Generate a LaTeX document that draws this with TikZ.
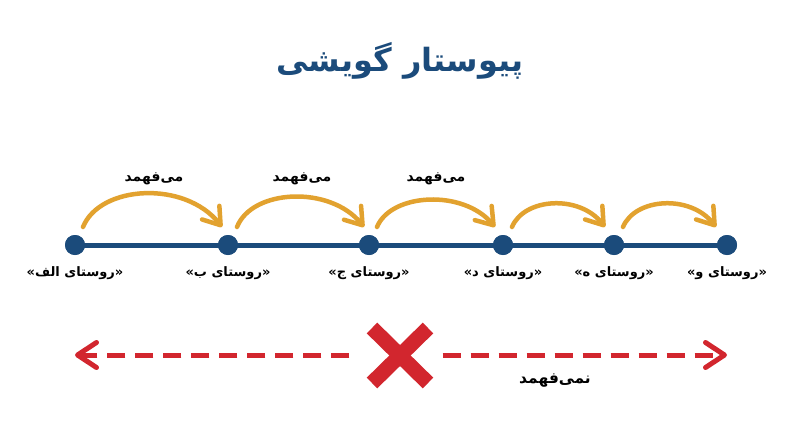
\documentclass[tikz,border=0pt]{standalone}
\usepackage{fontspec}
\setmainfont{DejaVu Sans}
\newfontfamily\fa[Script=Arabic]{DejaVu Sans}
\TeXXeTstate=1
\usetikzlibrary{arrows.meta,calc}
\definecolor{navy}{HTML}{1B4B7B}
\definecolor{gold}{HTML}{E2A22F}
\definecolor{redx}{HTML}{D2262E}
\tikzset{
  dot/.style={circle,fill=navy,inner sep=0pt,minimum size=20pt},
  lbl/.style={font=\fontsize{13}{15}\selectfont\fa\bfseries,text=black,inner sep=0pt},
  arclbl/.style={font=\fontsize{14}{16}\selectfont\fa\bfseries,text=black,inner sep=0pt},
  arcarrow/.style={draw=gold,line width=4.5pt,line cap=round,-{Straight Barb[length=16pt,width=22pt,line cap=round,line join=round]}},
  reddash/.style={draw=redx,line width=5pt,dash pattern=on 18pt off 10pt,-{Straight Barb[length=19pt,width=25pt,line cap=round,line join=round]}},
  bar/.style={draw=redx,line width=15pt,line cap=butt}
}
\begin{document}
\begin{tikzpicture}[x=1pt,y=-1pt]
\useasboundingbox[fill=white] (0,0) rectangle (800,447);
% title
\node[font=\fontsize{32}{36}\selectfont\fa\bfseries,text=navy,inner sep=0pt] (title) at (400,61) {\beginR پیوستار گویشی\endR};
% main line and dots
\node[dot] (a) at (75,245) {};
\node[dot] (b) at (228,245) {};
\node[dot] (c) at (369,245) {};
\node[dot] (d) at (503,245) {};
\node[dot] (e) at (614,245) {};
\node[dot] (f) at (727,245) {};
\draw[navy,line width=5pt] (a.center) -- (f.center);
\foreach \n in {a,b,c,d,e,f}{\fill[navy] (\n) circle (10pt);}
% labels
\node[lbl] (la) at (75,273) {\beginR«روستای الف»\endR};
\node[lbl] (lb) at (228,273) {\beginR«روستای ب»\endR};
\node[lbl] (lc) at (369,273) {\beginR«روستای ج»\endR};
\node[lbl] (ld) at (503,273) {\beginR«روستای د»\endR};
\node[lbl] (le) at (614,273) {\beginR«روستای ه»\endR};
\node[lbl] (lf) at (727,273) {\beginR«روستای و»\endR};
% arcs
\draw[arcarrow] ($(a)+(8,-18)$) .. controls +(17,-42) and +(-37,-47) .. ($(b)+(-6,-18)$);
\draw[arcarrow] ($(b)+(9,-18)$) .. controls +(15,-38) and +(-34,-42) .. ($(c)+(-5,-18)$);
\draw[arcarrow] ($(c)+(8,-18)$) .. controls +(14,-34) and +(-32,-38) .. ($(d)+(-8,-18)$);
\draw[arcarrow] ($(d)+(9,-18)$) .. controls +(12,-29) and +(-26,-33) .. ($(e)+(-9,-18)$);
\draw[arcarrow] ($(e)+(9,-18)$) .. controls +(12,-29) and +(-26,-33) .. ($(f)+(-11,-18)$);
\node[arclbl] (m1) at (154,179) {\beginR می^^^^200cفهمد\endR};
\node[arclbl] (m2) at (302,179) {\beginR می^^^^200cفهمد\endR};
\node[arclbl] (m3) at (436,179) {\beginR می^^^^200cفهمد\endR};
% cross
\node[inner sep=0pt,minimum width=67pt,minimum height=66pt] (cross) at (400,355.5) {};
\draw[bar] (372,328) -- (428,383);
\draw[bar] (428,328) -- (372,383);
% dashed arrows
\coordinate (lt) at (75,355);
\coordinate (rt) at (727,355);
\draw[reddash] ($(cross.west)+(-17,-0.5)$) -- (lt);
\draw[reddash] ($(cross.east)+(9,-0.5)$) -- (rt);
\node[arclbl,font=\fontsize{15.5}{17}\selectfont\fa\bfseries] (nm) at (555,381) {\beginR نمی^^^^200cفهمد\endR};
\end{tikzpicture}
\end{document}
